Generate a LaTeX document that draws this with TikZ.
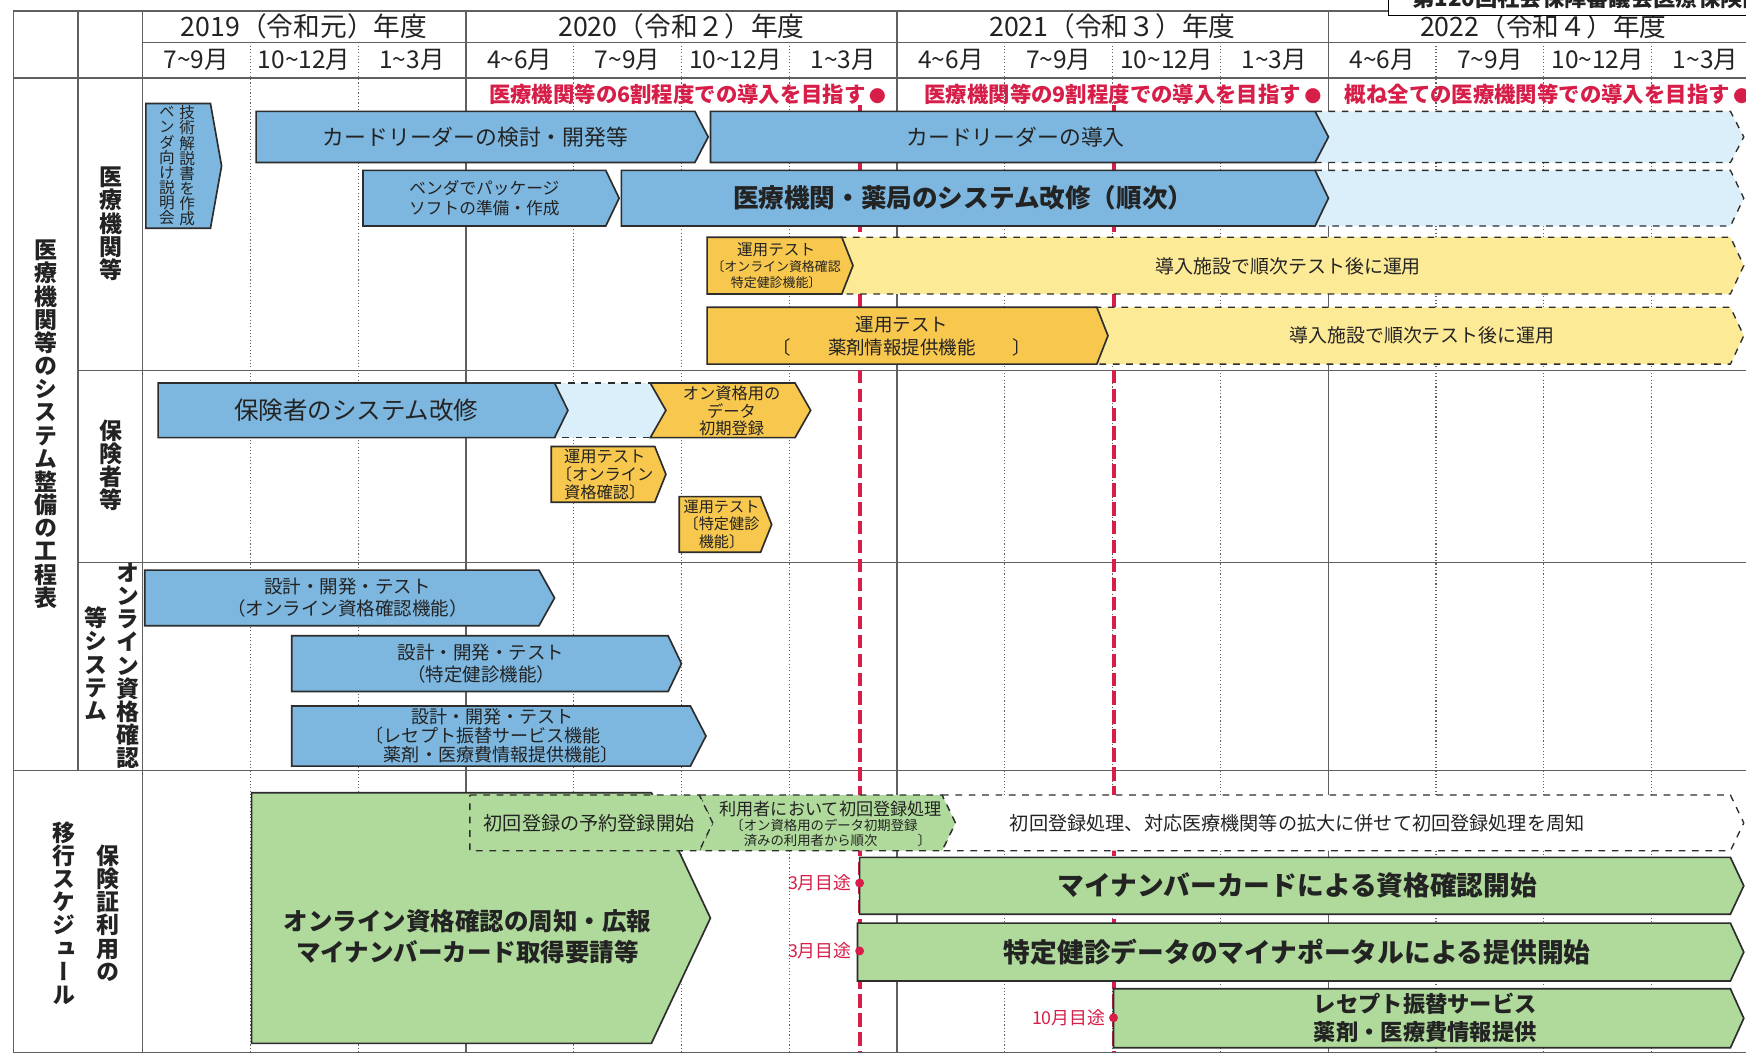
\documentclass[tikz,border=0pt]{standalone}
\usepackage{fontspec}
\setmainfont{Noto Sans CJK JP}
\newfontfamily\vcjk[RawFeature=+vert]{Noto Sans CJK JP}
\definecolor{bblue}{RGB}{125,182,222}
\definecolor{lblue}{RGB}{218,239,249}
\definecolor{dyel}{RGB}{247,199,78}
\definecolor{lyel}{RGB}{253,234,150}
\definecolor{grn}{RGB}{175,218,155}
\definecolor{tred}{RGB}{214,30,72}
\definecolor{edge}{RGB}{45,45,45}
\definecolor{txt}{RGB}{35,35,35}
\definecolor{gridc}{RGB}{95,95,95}
\newcommand{\fsz}[2]{\fontsize{#1}{#2}\selectfont\lineskiplimit=-20pt\relax}
\newcommand{\tld}{\textasciitilde}
\newcommand{\gdot}{{\fsz{7.5}{9}●}}
\newcommand{\arrbar}[6][]{%
  \draw[#1] (#2,#3) -- (#4-#6,#3) -- (#4,{(#3+#5)/2}) -- (#4-#6,#5) -- (#2,#5) -- cycle;}
\newcommand{\chevbar}[7][]{%
  \draw[#1] (#2,#3) -- (#4-#6,#3) -- (#4,{(#3+#5)/2}) -- (#4-#6,#5) -- (#2,#5) -- (#2+#7,{(#3+#5)/2}) -- cycle;}
\newcommand{\contbar}[6][]{%
  \filldraw[#1] (#2,#3) -- (#4-#6,#3) -- (#4,{(#3+#5)/2}) -- (#4-#6,#5) -- (#2,#5);}

\tikzstyle{every node}=[inner sep=0pt, text=txt, align=center]
\tikzstyle{yearlbl}=[font=\fsz{12}{14}]
\tikzstyle{monlbl}=[font=\fsz{11}{13}]
\tikzstyle{goal}=[font=\bfseries\fsz{9.6}{11}, text=tred, anchor=east]
\tikzstyle{vlab}=[font=\vcjk\bfseries\fsz{10.3}{10.4}]
\tikzstyle{due}=[font=\fsz{8}{9}, text=tred, anchor=east]
\tikzstyle{tline}=[draw=gridc, line width=0.6pt]
\tikzstyle{qline}=[draw=gridc, line width=0.5pt, densely dotted]
\tikzstyle{redline}=[draw=tred, line width=1.8pt, dash pattern=on 6pt off 2.5pt]
\tikzstyle{bluebar}=[draw=edge, fill=bblue, line width=0.75pt]
\tikzstyle{bluecont}=[draw=edge, fill=lblue, line width=0.6pt, dashed]
\tikzstyle{testbar}=[draw=edge, fill=dyel, line width=0.75pt]
\tikzstyle{yelcont}=[draw=edge, fill=lyel, line width=0.6pt, dashed]
\tikzstyle{greenbar}=[draw=edge, fill=grn, line width=0.75pt]
\tikzstyle{greendash}=[draw=edge, fill=grn, line width=0.6pt, dashed]
\tikzstyle{whitedash}=[draw=edge, fill=white, line width=0.6pt, dashed]

\begin{document}
\begin{tikzpicture}[x=0.5pt,y=-0.5pt]
  \useasboundingbox (0,0) rectangle (1568,951);
  \clip (0,0) rectangle (1568,951);
  \fill[white] (0,0) rectangle (1568,951);

  \foreach \q in {1,2,4,5,6,8,9,10,12,13,14}
    \draw[qline] ({128+96.8*\q},38) -- ({128+96.8*\q},945);
  \foreach \q in {3,7,11}
    \draw[tline] ({128+96.8*\q},10) -- ({128+96.8*\q},945);
  \draw[tline] (12,10) -- (1568,10);
  \draw[tline] (128,38) -- (1568,38);
  \draw[tline] (12,70) -- (1568,70);
  \draw[tline] (70,333) -- (1568,333);
  \draw[tline] (70,505) -- (1568,505);
  \draw[tline] (12,692) -- (1568,692);
  \draw[tline] (12,945) -- (1568,945);
  \draw[tline] (12,10) -- (12,945);
  \draw[tline] (70,10) -- (70,692);
  \draw[tline] (128,10) -- (128,945);

  \node[yearlbl] (yr19) at (273,24) {2019（令和元）年度};
  \node[yearlbl] (yr20) at (612,24) {2020（令和２）年度};
  \node[yearlbl] (yr21) at (999,24) {2021（令和３）年度};
  \node[yearlbl] (yr22) at (1386,24) {2022（令和４）年度};
  \foreach \m [count=\i from 0] in {7\tld9月,10\tld12月,1\tld3月,4\tld6月,7\tld9月,10\tld12月,1\tld3月,
      4\tld6月,7\tld9月,10\tld12月,1\tld3月,4\tld6月,7\tld9月,10\tld12月,1\tld3月}
    \node[monlbl] (m\i) at ({128+96.8*(\i+0.5)},54) {\m};

  \node[goal] (goal1) at (796,85) {医療機関等の6割程度での導入を目指す\,\gdot};
  \node[goal] (goal2) at (1187,85) {医療機関等の9割程度での導入を目指す\,\gdot};
  \node[goal] (goal3) at (1572,85) {概ね全ての医療機関等での導入を目指す\,\gdot};

  \draw[redline] (772,94) -- (772,945);
  \draw[redline] (1000,94) -- (1000,945);

  \arrbar[bluebar]{131}{93}{199}{205}{10}
  \arrbar[bluebar]{230}{100}{636}{146}{12}
  \contbar[bluecont]{1181}{100}{1566}{146}{12}
  \arrbar[bluebar]{638}{100}{1193}{146}{12}
  \arrbar[bluebar]{326}{153}{556}{203}{12}
  \contbar[bluecont]{1181}{153}{1566}{203}{12}
  \arrbar[bluebar]{558}{153}{1193}{203}{12}
  \contbar[yelcont]{754}{213}{1566}{264}{12}
  \arrbar[testbar]{635}{213}{766}{264}{10}
  \contbar[yelcont]{983}{276}{1566}{327}{12}
  \arrbar[testbar]{635}{276}{995}{327}{10}
  \contbar[bluecont]{498}{344}{600}{393}{0}
  \arrbar[bluebar]{142}{344}{510}{393}{12}
  \chevbar[testbar]{584}{344}{728}{393}{14}{14}
  \arrbar[testbar]{495}{401}{598}{451}{10}
  \arrbar[testbar]{610}{446}{693}{496}{10}
  \arrbar[bluebar]{130}{512}{498}{562}{14}
  \arrbar[bluebar]{262}{571}{612}{621}{12}
  \arrbar[bluebar]{262}{634}{634}{688}{14}
  \arrbar[greenbar]{226}{712}{638}{937}{53}
  \chevbar[whitedash]{846}{714}{1566}{764}{12}{12}
  \chevbar[greendash]{628}{714}{858}{764}{12}{12}
  \arrbar[greendash]{422}{714}{640}{764}{12}
  \arrbar[greenbar]{772}{770}{1566}{821}{12}
  \arrbar[greenbar]{770}{829}{1566}{881}{12}
  \arrbar[greenbar]{1000}{888}{1566}{941}{12}

  \node[font=\vcjk\fsz{7}{6.8}] (vendA) at (168,149) {技\\術\\解\\説\\書\\を\\作\\成};
  \node[font=\vcjk\fsz{7}{6.8}] (vendB) at (150,149) {ベ\\ン\\ダ\\向\\け\\説\\明\\会};
  \node[font=\fsz{9.8}{11}] (cardev) at (427,123) {カードリーダーの検討・開発等};
  \node[font=\fsz{9.8}{11}] (cardin) at (912,123) {カードリーダーの導入};
  \node[font=\fsz{7.5}{9}] (pkg) at (435,178) {ベンダでパッケージ\\ソフトの準備・作成};
  \node[font=\bfseries\fsz{11.5}{13}] (sysmod) at (865,178) {医療機関・薬局のシステム改修（順次）};
  \node[font=\fsz{5.8}{7.2}] (test1) at (697,239) {{\fsz{7}{8}運用テスト}\\〔オンライン資格確認\\特定健診機能〕};
  \node[font=\fsz{8.5}{10}] (run1) at (1157,239) {導入施設で順次テスト後に運用};
  \node[font=\fsz{8.3}{10.5}] (test2) at (810,302) {運用テスト\\〔　　薬剤情報提供機能　　〕};
  \node[font=\fsz{8.5}{10}] (run2) at (1277,301) {導入施設で順次テスト後に運用};
  \node[font=\fsz{11}{13}] (hoken) at (320,368) {保険者のシステム改修};
  \node[font=\fsz{7.3}{8}] (datareg) at (657,369) {オン資格用の\\データ\\初期登録};
  \node[font=\fsz{7.3}{8}] (test3) at (543,426) {運用テスト\\〔オンライン\\資格確認〕};
  \node[font=\fsz{6.8}{8}] (test4) at (648,471) {運用テスト\\〔特定健診\\機能〕};
  \node[font=\fsz{8.3}{10}] (dev1) at (312,537) {設計・開発・テスト\\（オンライン資格確認機能）};
  \node[font=\fsz{8.3}{10}] (dev2) at (432,596) {設計・開発・テスト\\（特定健診機能）};
  \node[font=\fsz{8.1}{8.6}] (dev3) at (442,661) {設計・開発・テスト\\〔レセプト振替サービス機能　\\　薬剤・医療費情報提供機能〕};
  \node[font=\bfseries\fsz{11}{14}] (promo) at (420,841) {オンライン資格確認の周知・広報\\マイナンバーカード取得要請等};
  \node[font=\fsz{8.6}{10}] (prereg) at (529,739) {初回登録の予約登録開始};
  \node[font=\fsz{6}{6.8}] (userreg) at (746,740) {{\fsz{7.7}{8.5}利用者において初回登録処理}\\〔オン資格用のデータ初期登録　\\　済みの利用者から順次　　　〕};
  \node[font=\fsz{8.6}{10}] (notify) at (1165,739) {初回登録処理、対応医療機関等の拡大に併せて初回登録処理を周知};
  \node[font=\bfseries\fsz{12}{14}] (mynum) at (1165,795) {マイナンバーカードによる資格確認開始};
  \node[font=\bfseries\fsz{12}{14}] (kenshin) at (1165,855) {特定健診データのマイナポータルによる提供開始};
  \node[font=\bfseries\fsz{10}{12.5}] (rezept) at (1280,914) {レセプト振替サービス\\薬剤・医療費情報提供};

  \fill[tred] (772,793) circle (4);
  \fill[tred] (772,854) circle (4);
  \fill[tred] (1000,914) circle (4);
  \node[due] (due1) at (765,793) {3月目途};
  \node[due] (due2) at (765,854) {3月目途};
  \node[due] (due3) at (993,914) {10月目途};

  \node[vlab] (labsys) at (41,381) {医\\療\\機\\関\\等\\の\\シ\\ス\\テ\\ム\\整\\備\\の\\工\\程\\表};
  \node[vlab] (labmed) at (100,201) {医\\療\\機\\関\\等};
  \node[vlab] (labins) at (100,418) {保\\険\\者\\等};
  \node[vlab] (labonl) at (115,598) {オ\\ン\\ラ\\イ\\ン\\資\\格\\確\\認};
  \node[vlab] (labsys2) at (86,596) {等\\シ\\ス\\テ\\ム};
  \node[vlab] (labuse) at (97,820) {保\\険\\証\\利\\用\\の};
  \node[vlab] (labmig) at (57,820) {移\\行\\ス\\ケ\\ジ\\ュ\\ー\\ル};

  \draw[fill=white, draw=black, line width=0.8pt] (1247,-20) rectangle (1600,14);
  \node[font=\bfseries\fsz{10}{12}, anchor=base west] (deck) at (1268,6) {第120回社会保障審議会医療保険部会};
\end{tikzpicture}
\end{document}
